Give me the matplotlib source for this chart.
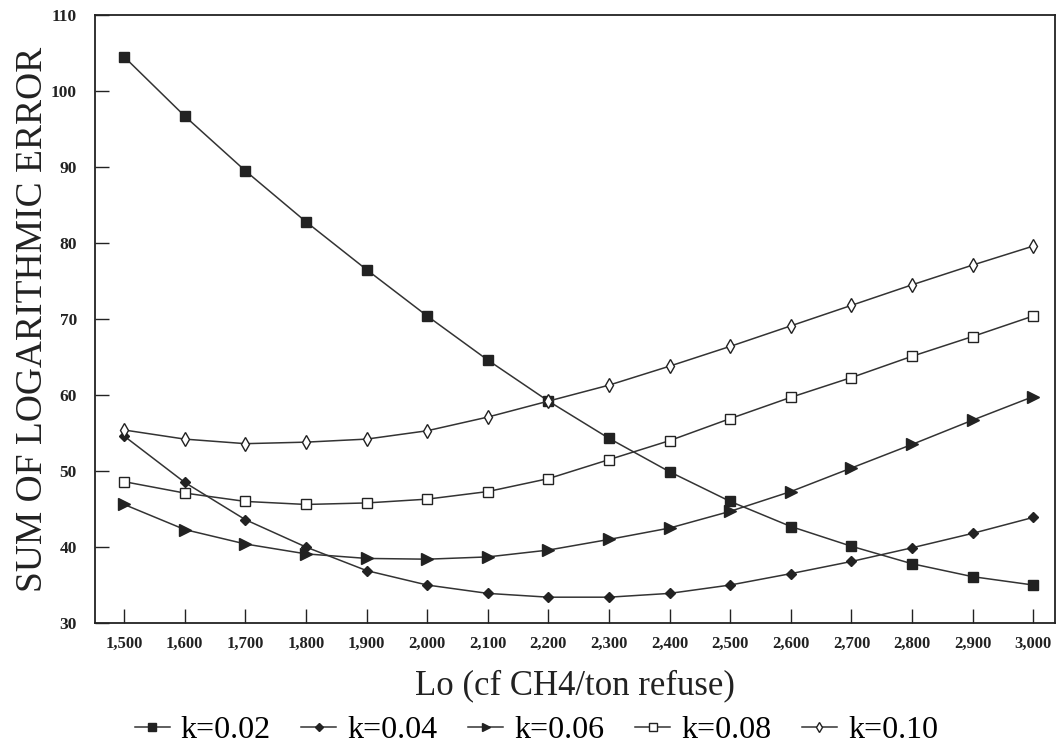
import numpy as np
import matplotlib
matplotlib.use("Agg")
import matplotlib.pyplot as plt
from matplotlib.ticker import FuncFormatter

plt.rcParams["font.family"] = ["Liberation Serif", "DejaVu Serif"]

lo = [1500, 1600, 1700, 1800, 1900, 2000, 2100, 2200,
      2300, 2400, 2500, 2600, 2700, 2800, 2900, 3000]

err_k002 = [104.5, 96.7, 89.5, 82.8, 76.5, 70.4, 64.6, 59.2,
            54.3, 49.9, 46.0, 42.7, 40.1, 37.8, 36.1, 35.0]
err_k004 = [54.6, 48.5, 43.6, 40.0, 36.9, 35.0, 33.9, 33.4,
            33.4, 33.9, 35.0, 36.5, 38.1, 39.9, 41.8, 43.9]
err_k006 = [45.6, 42.3, 40.4, 39.1, 38.5, 38.4, 38.7, 39.6,
            41.0, 42.5, 44.7, 47.3, 50.4, 53.5, 56.7, 59.8]
err_k008 = [48.6, 47.1, 46.0, 45.6, 45.8, 46.3, 47.3, 49.0,
            51.5, 54.0, 56.9, 59.7, 62.3, 65.1, 67.7, 70.4]
err_k010 = [55.4, 54.2, 53.6, 53.8, 54.2, 55.3, 57.1, 59.2,
            61.3, 63.8, 66.4, 69.1, 71.8, 74.5, 77.1, 79.6]

labels = ["k=0.02", "k=0.04", "k=0.06", "k=0.08", "k=0.10"]
series = [err_k002, err_k004, err_k006, err_k008, err_k010]

# marker, size, face colour per series
styles = [
    ("s", 7, "#222222"),
    ("D", 5.5, "#222222"),
    (">", 8, "#222222"),
    ("s", 7, "white"),
    ("d", 7, "white"),
]

fig = plt.figure(figsize=(10.62, 7.51), dpi=100)
ax = fig.add_axes([0.0895, 0.1704, 0.904, 0.8096])

for y, lab, (m, ms, fc) in zip(series, labels, styles):
    ax.plot(lo, y, color="#333333", linewidth=1.1, marker=m, markersize=ms,
            markerfacecolor=fc, markeredgecolor="#222222", markeredgewidth=1.0,
            label=lab)

ax.set_xlim(1452, 3036)
ax.set_ylim(30, 110)
ax.set_xticks(lo)
ax.set_yticks(np.arange(30, 111, 10))
ax.xaxis.set_major_formatter(FuncFormatter(lambda v, p: f"{int(v):,}"))

ax.tick_params(direction="in", length=10, width=1.0, colors="#222222")
ax.tick_params(axis="x", labelsize=12, pad=9)
ax.tick_params(axis="y", labelsize=12.5, pad=13)
for t in ax.get_xticklabels() + ax.get_yticklabels():
    t.set_fontweight("bold")

for s in ax.spines.values():
    s.set_linewidth(1.3)
    s.set_color("#222222")

ax.set_ylabel("SUM OF LOGARITHMIC ERROR", fontsize=27, color="#222222", labelpad=1)
ax.set_xlabel("Lo (cf CH4/ton refuse)", fontsize=25, color="#222222", labelpad=13)

fig.legend(loc="lower center", bbox_to_anchor=(0.505, -0.03), ncol=5,
           frameon=False, fontsize=23, handlelength=1.1, handletextpad=0.35,
           columnspacing=0.95, markerscale=0.75)

fig.savefig("out.png", dpi=100, facecolor="white")
